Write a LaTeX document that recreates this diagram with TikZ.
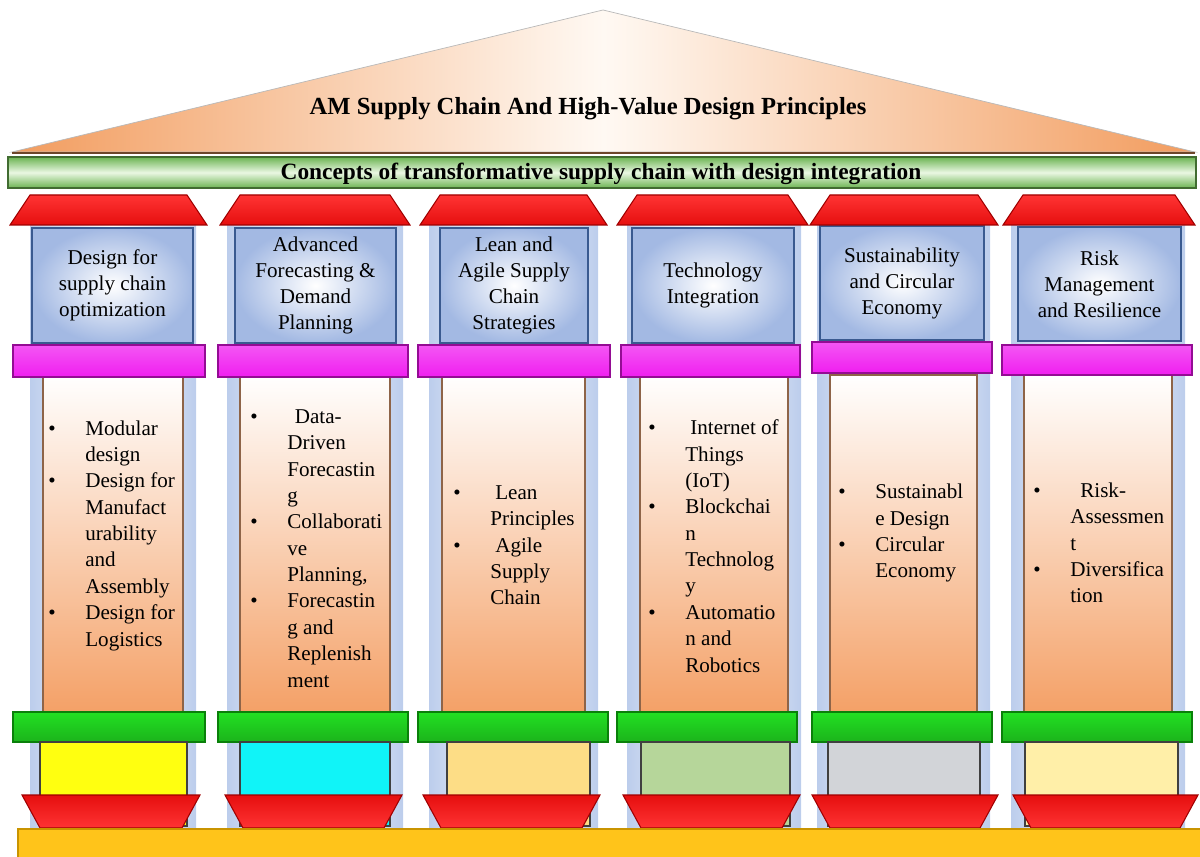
\documentclass[tikz,border=0pt]{standalone}
\usepackage{fontspec}
\setmainfont{Liberation Serif}
\definecolor{roofor}{HTML}{F29C5E}
\definecolor{roofhi}{HTML}{FFF9F3}
\definecolor{bandhi}{HTML}{EAF7E3}
\definecolor{bandlo}{HTML}{6CB452}
\definecolor{pillarbl}{HTML}{BCCDEC}
\definecolor{headbl}{HTML}{A3B9E3}
\definecolor{headln}{HTML}{3A5A90}
\definecolor{hatred}{HTML}{FF1010}
\definecolor{hatdk}{HTML}{A00000}
\definecolor{magfill}{HTML}{F01EF0}
\definecolor{magdk}{HTML}{940C94}
\definecolor{bodyor}{HTML}{F4A066}
\definecolor{bodyln}{HTML}{8E6448}
\definecolor{ringgr}{HTML}{22E022}
\definecolor{ringdk}{HTML}{0A800A}
\definecolor{footyel}{HTML}{FFFF10}
\definecolor{footcya}{HTML}{10F4F8}
\definecolor{foottan}{HTML}{FDDD86}
\definecolor{footgrn}{HTML}{B6D69A}
\definecolor{footgry}{HTML}{D2D4D8}
\definecolor{footcrm}{HTML}{FFEFA8}
\definecolor{plinthgd}{HTML}{FFC41A}
\definecolor{plinthdk}{HTML}{C99400}
\newcommand{\bul}{\makebox[0.74cm][l]{\textbullet}}
\newcommand{\nob}{\hspace*{0.74cm}}

\begin{document}
\begin{tikzpicture}[
  x=0.02cm, y=-0.02cm,
  roofsh/.style   = {left color=roofor, right color=roofor, middle color=roofhi, draw=gray!55, line width=0.4pt},
  bandbar/.style  = {top color=bandlo, bottom color=bandlo, middle color=bandhi, draw=bandlo!60!black, line width=0.6pt},
  pillarbg/.style = {left color=pillarbl, right color=pillarbl, middle color=white},
  bodybox/.style  = {top color=white, bottom color=bodyor, draw=bodyln, line width=0.8pt},
  headbox/.style  = {rectangle, inner color=white, outer color=headbl, draw=headln, line width=1pt,
                     minimum height=2.3cm, align=center, inner sep=2pt, font=\fontsize{12}{14.8}\selectfont},
  redtop/.style   = {top color=hatred!85!white, bottom color=hatred!90!black, draw=hatdk, line width=0.6pt},
  redbot/.style   = {top color=hatred!90!black, bottom color=hatred!85!white, draw=hatdk, line width=0.6pt},
  magbar/.style   = {top color=magfill!75!white, bottom color=magfill, draw=magdk, line width=0.6pt},
  greenbar/.style = {top color=ringgr, bottom color=ringgr!80!black, draw=ringdk, line width=0.6pt},
  footbox/.style  = {draw=gray!50!black, line width=0.6pt},
  plinth/.style   = {fill=plinthgd, draw=plinthdk, line width=0.6pt},
  listtxt/.style  = {anchor=base west, align=left, inner sep=0pt, font=\fontsize{12}{15}\selectfont},
  titletxt/.style = {anchor=base, inner sep=0pt, font=\bfseries\fontsize{14}{16}\selectfont}
]
\useasboundingbox (0,0) rectangle (1200,857);

\path[roofsh] (12,152) -- (603,10) -- (1195,152) -- cycle;
\draw[roofor!45!black, line width=1.5pt] (12,153) -- (1195,153);
\path[bandbar] (8,157) rectangle (1196,188);

\path[pillarbg] (30,225) rectangle (196,830);
\path[pillarbg] (227,225) rectangle (403,830);
\path[pillarbg] (429,225) rectangle (598,830);
\path[pillarbg] (627,225) rectangle (801,830);
\path[pillarbg] (817,225) rectangle (990,830);
\path[pillarbg] (1011,225) rectangle (1185,830);

\path[bodybox] (43,375) rectangle (183,714);
\path[bodybox] (240,375) rectangle (390,714);
\path[bodybox] (442,375) rectangle (585,714);
\path[bodybox] (640,375) rectangle (788,714);
\path[bodybox] (830,375) rectangle (977,714);
\path[bodybox] (1024,375) rectangle (1172,714);

\path[magbar] (13,345) rectangle (205,377);
\path[magbar] (218,345) rectangle (408,377);
\path[magbar] (418,345) rectangle (610,377);
\path[magbar] (621,345) rectangle (800,377);
\path[magbar] (812,342) rectangle (992,373);
\path[magbar] (1002,345) rectangle (1192,375);

\node[headbox, minimum width=3.22cm] (h1) at (112.5,285.5) {Design for\\supply chain\\optimization};
\node[headbox, minimum width=3.22cm] (h2) at (315.5,285.5) {Advanced\\Forecasting \&\\Demand\\Planning};
\node[headbox, minimum width=2.96cm] (h3) at (514,285.5) {Lean and\\Agile Supply\\Chain\\Strategies};
\node[headbox, minimum width=3.24cm] (h4) at (713,285.5) {Technology\\Integration};
\node[headbox, minimum width=3.28cm, minimum height=2.28cm] (h5) at (902,283) {Sustainability\\and Circular\\Economy};
\node[headbox, minimum width=3.26cm, minimum height=2.28cm] (h6) at (1099.5,284) {Risk\\Management\\and Resilience};

\path[redtop] (10,225) -- (207,225) -- (187,195) -- (30,195) -- cycle;
\path[redtop] (220,225) -- (410,225) -- (390,195) -- (240,195) -- cycle;
\path[redtop] (420,225) -- (607,225) -- (587,195) -- (440,195) -- cycle;
\path[redtop] (617,225) -- (808,225) -- (788,195) -- (637,195) -- cycle;
\path[redtop] (810,225) -- (998,225) -- (978,195) -- (830,195) -- cycle;
\path[redtop] (1003,225) -- (1195,225) -- (1175,195) -- (1023,195) -- cycle;

\path[greenbar] (13,712) rectangle (205,742);
\path[greenbar] (218,712) rectangle (408,742);
\path[greenbar] (418,712) rectangle (608,742);
\path[greenbar] (617,712) rectangle (797,742);
\path[greenbar] (812,712) rectangle (992,742);
\path[greenbar] (1002,712) rectangle (1192,742);

\path[footbox, fill=footyel] (40,742) rectangle (187,826);
\path[footbox, fill=footcya] (240,742) rectangle (390,826);
\path[footbox, fill=foottan] (447,742) rectangle (590,826);
\path[footbox, fill=footgrn] (641,742) rectangle (790,826);
\path[footbox, fill=footgry] (828,742) rectangle (980,826);
\path[footbox, fill=footcrm] (1025,742) rectangle (1178,826);

\path[redbot] (22,795) -- (200,795) -- (182,828) -- (40,828) -- cycle;
\path[redbot] (225,795) -- (402,795) -- (384,828) -- (243,828) -- cycle;
\path[redbot] (423,795) -- (600,795) -- (582,828) -- (441,828) -- cycle;
\path[redbot] (623,795) -- (800,795) -- (782,828) -- (641,828) -- cycle;
\path[redbot] (812,795) -- (998,795) -- (980,828) -- (830,828) -- cycle;
\path[redbot] (1013,795) -- (1198,795) -- (1180,828) -- (1031,828) -- cycle;

\path[plinth] (18,829) rectangle (1203,860);

\node[titletxt] (title) at (588,115) {AM Supply Chain And High-Value Design Principles};
\node[titletxt, font=\bfseries\fontsize{13.3}{15}\selectfont] (concept) at (601,180)
  {Concepts of transformative supply chain with design integration};

\node[listtxt] (b1) at (48,646) {\bul Modular\\\nob design\\\bul Design for\\\nob Manufact\\\nob urability\\\nob and\\\nob Assembly\\\bul Design for\\\nob Logistics};
\node[listtxt] (b2) at (250,687) {\bul\hspace{0.15cm}Data-\\\nob Driven\\\nob Forecastin\\\nob g\\\bul Collaborati\\\nob ve\\\nob Planning,\\\bul Forecastin\\\nob g and\\\nob Replenish\\\nob ment};
\node[listtxt] (b3) at (453,605) {\bul\hspace{0.1cm}Lean\\\nob Principles\\\bul\hspace{0.1cm}Agile\\\nob Supply\\\nob Chain};
\node[listtxt] (b4) at (648,672) {\bul\hspace{0.1cm}Internet of\\\nob Things\\\nob (IoT)\\\bul Blockchai\\\nob n\\\nob Technolog\\\nob y\\\bul Automatio\\\nob n and\\\nob Robotics};
\node[listtxt] (b5) at (838,578) {\bul Sustainabl\\\nob e Design\\\bul Circular\\\nob Economy};
\node[listtxt] (b6) at (1033,603) {\bul\hspace{0.2cm}Risk-\\\nob Assessmen\\\nob t\\\bul Diversifica\\\nob tion};

\end{tikzpicture}
\end{document}
